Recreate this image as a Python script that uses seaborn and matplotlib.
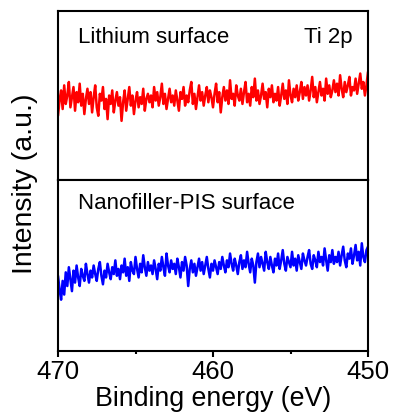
import numpy as np
import pandas as pd
import matplotlib
matplotlib.use("Agg")
import matplotlib.pyplot as plt
import seaborn as sns
from matplotlib.ticker import MultipleLocator

# Binding energy grid (eV), scanned from 470 down to 450 in 0.1 eV steps
energy = np.round(np.arange(470.0, 449.95, -0.1), 2)

# Ti 2p intensity, Lithium surface (a.u.)
lithium = [
    38, 47, 53, 42, 56, 45, 50, 58, 43, 49, 55, 41, 52, 46, 57, 44, 51, 39, 48, 54,
    45, 52, 40, 49, 56, 43, 38, 51, 47, 55, 42, 48, 36, 50, 45, 53, 40, 47, 52, 44,
    49, 35, 46, 53, 41, 48, 55, 44, 50, 39, 47, 52, 43, 49, 45, 54, 41, 48, 51, 46,
    50, 43, 55, 47, 52, 44, 49, 57, 45, 51, 42, 48, 54, 46, 50, 44, 53, 47, 41, 52,
    48, 55, 44, 50, 46, 53, 58, 45, 51, 42, 49, 56, 47, 52, 44, 50, 55, 46, 53, 49,
    43, 51, 57, 46, 52, 40, 49, 55, 47, 53, 45, 59, 48, 51, 44, 56, 50, 47, 54, 45,
    52, 58, 46, 51, 44, 55, 49, 60, 47, 53, 45, 50, 57, 48, 52, 43, 54, 49, 56, 46,
    51, 47, 55, 44, 50, 57, 48, 53, 45, 59, 50, 46, 54, 49, 56, 47, 52, 58, 48, 55,
    50, 56, 47, 53, 61, 49, 55, 46, 52, 58, 50, 54, 47, 60, 51, 56, 49, 53, 59, 52,
    57, 50, 62, 54, 49, 58, 52, 56, 61, 50, 55, 53, 60, 51, 57, 63, 54, 58, 50, 56,
    64,
]

# Ti 2p intensity, Nanofiller-PIS surface (a.u.)
nanofiller = [
    44, 36, 30, 41, 33, 46, 38, 49, 42, 35, 47, 40, 50, 43, 38, 48, 44, 41, 51, 45,
    40, 47, 43, 50, 45, 41, 48, 52, 44, 39, 47, 43, 51, 46, 42, 49, 45, 53, 44, 48,
    42, 50, 46, 54, 44, 49, 41, 52, 47, 45, 55, 48, 43, 51, 46, 56, 49, 44, 52, 47,
    50, 45, 53, 48, 42, 51, 47, 55, 49, 44, 57, 50, 46, 53, 48, 51, 45, 54, 49, 43,
    52, 47, 55, 50, 38, 48, 53, 46, 51, 44, 49, 54, 47, 52, 45, 50, 55, 48, 43, 51,
    47, 53, 49, 45, 52, 48, 55, 50, 46, 53, 49, 57, 51, 47, 54, 50, 45, 52, 56, 48,
    53, 49, 58, 51, 46, 54, 50, 40, 52, 57, 49, 55, 51, 47, 58, 52, 48, 55, 50, 46,
    54, 50, 57, 48, 53, 59, 51, 47, 55, 52, 49, 58, 50, 54, 47, 56, 52, 48, 57, 53,
    50, 55, 59, 51, 48, 56, 53, 49, 58, 52, 55, 50, 60, 53, 47, 56, 52, 59, 51, 55,
    52, 58, 50, 56, 61, 53, 49, 57, 54, 60, 51, 56, 62, 53, 58, 50, 63, 55, 52, 59,
    61,
]

panel_labels = ["Lithium surface", "Nanofiller-PIS surface"]
element_label = "Ti 2p"
xticks = [470, 460, 450]

sns.set_style("ticks")
plt.rcParams["font.family"] = ["Liberation Sans", "DejaVu Sans"]
plt.rcParams["text.color"] = "black"
plt.rcParams["axes.labelcolor"] = "black"
plt.rcParams["xtick.color"] = "black"
plt.rcParams["xtick.labelcolor"] = "black"

fig = plt.figure(figsize=(3.94, 4.14), dpi=100)
left, right = 58 / 394, 368 / 394
y_top, y_mid, y_bot = 1 - 12 / 414, 1 - 181 / 414, 1 - 352 / 414
ax1 = fig.add_axes([left, y_mid, right - left, y_top - y_mid])
ax2 = fig.add_axes([left, y_bot, right - left, y_mid - y_bot], sharex=ax1)

df1 = pd.DataFrame({"energy": energy, "intensity": lithium})
df2 = pd.DataFrame({"energy": energy, "intensity": nanofiller})
sns.lineplot(data=df1, x="energy", y="intensity", ax=ax1, color="#ff0000", lw=1.8)
sns.lineplot(data=df2, x="energy", y="intensity", ax=ax2, color="#0000ff", lw=1.8)

for ax in (ax1, ax2):
    ax.set_xlim(470, 450)
    ax.set_ylim(0, 100)
    ax.set_yticks([])
    ax.set_ylabel("")
    ax.set_xlabel("")
    for s in ax.spines.values():
        s.set_linewidth(1.5)
        s.set_color("black")

ax1.tick_params(axis="x", which="both", bottom=False, labelbottom=False)
ax2.set_xticks(xticks)
ax2.xaxis.set_minor_locator(MultipleLocator(5))
ax2.tick_params(axis="x", which="major", direction="out", length=4, width=1.5,
                labelsize=18.5, pad=2, colors="black")
ax2.tick_params(axis="x", which="minor", direction="out", length=2.5, width=1.5, colors="black")
ax2.set_xlabel("Binding energy (eV)", fontsize=19.3, labelpad=1, color="black")

ax1.text(0.063, 0.85, panel_labels[0], transform=ax1.transAxes, fontsize=16,
         ha="left", va="center", color="black")
ax1.text(0.95, 0.85, element_label, transform=ax1.transAxes, fontsize=16,
         ha="right", va="center", color="black")
ax2.text(0.063, 0.87, panel_labels[1], transform=ax2.transAxes, fontsize=16,
         ha="left", va="center", color="black")

fig.text(25 / 394, 1 - 184 / 414, "Intensity (a.u.)", rotation=90, fontsize=20.5,
         ha="center", va="center", color="black")

fig.savefig("out.png", dpi=100)
